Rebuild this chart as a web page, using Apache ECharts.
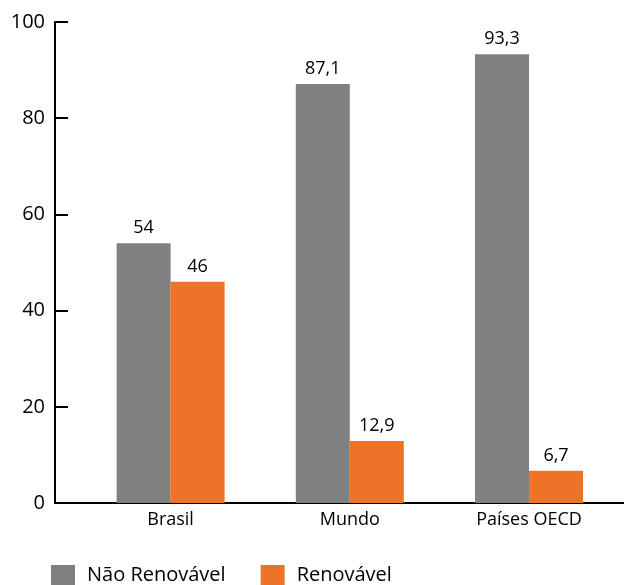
<!DOCTYPE html>
<html>
<head>
<meta charset="utf-8">
<script src="https://cdn.jsdelivr.net/npm/echarts@6/dist/echarts.min.js"></script>
<style>html,body{margin:0;padding:0;background:#fff}#c{width:624px;height:585px}</style>
</head>
<body>
<div id="c"></div>
<script>
const categories = ['Brasil', 'Mundo', 'Países OECD'];
const seriesNames = ['Não Renovável', 'Renovável'];
const naoRenovavel = [54, 87.1, 93.3];
const renovavel = [46, 12.9, 6.7];
const yTicks = [0, 20, 40, 60, 80, 100];
const colors = ['#808080', '#EE7328'];

const chart = echarts.init(document.getElementById('c'));
const catIdx = categories.map((c, i) => i);
const fmt = v => String(v).replace('.', ',');

function barSeries(name, values, color) {
  return {
    name: name,
    type: 'bar',
    data: values.map((v, i) => [i, v]),
    barWidth: 54,
    barGap: '0%',
    itemStyle: { color: color },
    label: {
      show: true,
      position: 'top',
      distance: 6,
      fontSize: 18,
      color: '#000',
      fontFamily: 'Open Sans',
      formatter: p => fmt(p.value[1])
    }
  };
}

chart.setOption({
  animation: false,
  textStyle: { fontFamily: 'Open Sans' },
  grid: { left: 55, right: 0, top: 22, bottom: 82 },
  xAxis: {
    type: 'value',
    min: -0.645,
    max: 2.53,
    splitLine: { show: false },
    axisTick: { show: false },
    axisLine: { show: true, onZero: false, lineStyle: { color: '#000', width: 2 } },
    axisLabel: {
      customValues: catIdx,
      formatter: v => categories[Math.round(v)],
      fontSize: 18,
      color: '#000',
      margin: 8,
      fontFamily: 'Open Sans'
    }
  },
  yAxis: {
    type: 'value',
    min: yTicks[0],
    max: yTicks[yTicks.length - 1],
    interval: 20,
    splitLine: { show: false },
    axisLine: { show: true, onZero: false, lineStyle: { color: '#000', width: 2 } },
    axisTick: { show: true, inside: true, length: 13, lineStyle: { color: '#000', width: 2 } },
    axisLabel: { fontSize: 20, color: '#000', margin: 10, fontFamily: 'Open Sans' }
  },
  legend: {
    data: seriesNames,
    left: 51,
    top: 565,
    padding: 0,
    icon: 'rect',
    itemWidth: 24,
    itemHeight: 20,
    itemGap: 35,
    textStyle: { fontSize: 20, color: '#000', fontFamily: 'Open Sans', padding: [0, 0, 0, 7] }
  },
  series: [
    barSeries(seriesNames[0], naoRenovavel, colors[0]),
    barSeries(seriesNames[1], renovavel, colors[1])
  ]
});
</script>
</body>
</html>
